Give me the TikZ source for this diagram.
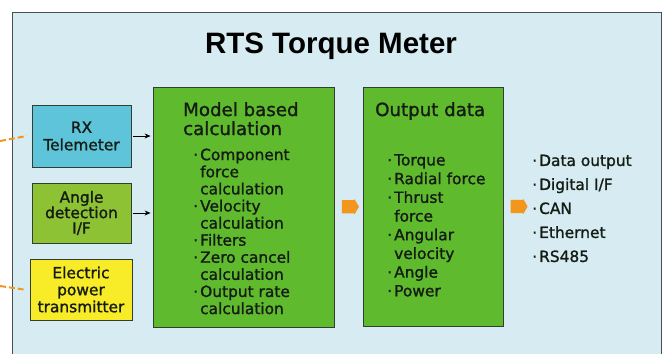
\documentclass[tikz,border=0pt]{standalone}
\usepackage{fontspec}
\setmainfont{DejaVu Sans}[RawFeature={embolden=1.3}]
\newfontfamily\headfont{Liberation Sans}
\usetikzlibrary{arrows.meta,shapes.arrows,calc}

\definecolor{panel}{RGB}{214,236,242}
\definecolor{panelline}{RGB}{70,80,80}
\definecolor{rxcyan}{RGB}{94,196,218}
\definecolor{anglelime}{RGB}{141,194,52}
\definecolor{calcgreen}{RGB}{96,186,46}
\definecolor{powyellow}{RGB}{248,236,40}
\definecolor{boxline}{RGB}{50,62,50}
\definecolor{flow}{RGB}{243,150,30}
\definecolor{ink}{RGB}{20,28,20}

% bullet and continuation indent for the item lists
\newcommand\bul{\makebox[8pt][l]{\hspace{1pt}·}}
\newcommand\cont{\makebox[8pt]{}}

\tikzset{
  unit/.style={draw=boxline, line width=0.8pt, inner sep=0pt, text=ink},
  sidebox/.style={unit, minimum width=99pt, minimum height=61pt, align=center,
    font=\fontsize{15.4}{17.5}\selectfont},
  bigbox/.style={unit, fill=calcgreen},
  bodytext/.style={inner sep=0pt, anchor=north west, align=left, text=ink},
  headtext/.style={inner sep=0pt, anchor=north west, align=left, text=ink,
    font=\fontsize{18.2}{19}\selectfont},
  linkarrow/.style={-{Stealth[length=6pt,width=5pt]}, line width=1pt, black,
    shorten <=2pt, shorten >=2pt},
  blockarrow/.style={single arrow, fill=flow, draw=none, minimum height=17pt,
    inner xsep=0pt, inner ysep=6.5pt, single arrow head extend=1pt,
    single arrow tip angle=120},
  signal/.style={dash pattern=on 6pt off 3pt, draw=flow, line width=2pt}
}

\begin{document}
\begin{tikzpicture}[x=1pt, y=-1pt]
  \useasboundingbox (0,0) rectangle (667,354);
  \fill[white] (0,0) rectangle (667,354);

  % main panel
  \fill[panel] (12,12) rectangle (661,354);
  \draw[panelline, line width=1pt] (12,354) -- (12,12) -- (661,12) -- (661,354);

  \node[font=\headfont\bfseries\fontsize{29.5}{31}\selectfont, text=black, anchor=base]
    (title) at (331,53) {RTS Torque Meter};

  % input units
  \node[sidebox, fill=rxcyan, minimum height=62pt] (rx) at (81.5,136) {RX\\Telemeter};
  \node[sidebox, fill=anglelime, minimum height=60pt,
        font=\fontsize{15.4}{15.5}\selectfont] (angle) at (81.5,213) {Angle\\detection\\I/F};
  \node[sidebox, fill=powyellow, minimum width=102pt,
        font=\fontsize{15.4}{17}\selectfont] (power) at (81,289.5) {Electric\\power\\transmitter};

  % processing blocks
  \node[bigbox, minimum width=181pt, minimum height=240pt] (model) at (243.5,207) {};
  \node[bigbox, minimum width=140pt, minimum height=239pt] (outbox) at (433,206.5) {};

  \node[headtext] (modelhead) at (183,102) {Model based\\calculation};
  \node[bodytext, font=\fontsize{15.4}{17.1}\selectfont] (modellist) at (192,148.5)
    {\bul Component\\ \cont force\\ \cont calculation\\
     \bul Velocity\\ \cont calculation\\ \bul Filters\\
     \bul Zero cancel\\ \cont calculation\\ \bul Output rate\\ \cont calculation};

  \node[headtext] (outhead) at (375,102) {Output data};
  \node[bodytext, font=\fontsize{15.4}{18.7}\selectfont] (outlist) at (386,154)
    {\bul Torque\\ \bul Radial force\\ \bul Thrust\\ \cont force\\
     \bul Angular\\ \cont velocity\\ \bul Angle\\ \bul Power};

  \node[bodytext, font=\fontsize{15.4}{24}\selectfont] (iflist) at (531,154.5)
    {\bul Data output\\ \bul Digital I/F\\ \bul CAN\\ \bul Ethernet\\ \bul RS485};

  % data flow
  \draw[linkarrow] (rx.east) -- (rx.east -| model.west);
  \draw[linkarrow] (angle.east) -- (angle.east -| model.west);

  \node[blockarrow] (flow1) at ($(model.east)!0.5!(outbox.west)$) {};
  \node[blockarrow] (flow2) at ($(outbox.east)!0.5!(outbox.east -| iflist.west)$) {};

  % wireless links from the rotating side
  \coordinate (rxsrc) at (0,141);
  \coordinate (pwsrc) at (0,286);
  \draw[signal] (rxsrc) -- ([xshift=-5pt]rx.west);
  \draw[signal] (pwsrc) -- ([xshift=-6pt]power.west);
\end{tikzpicture}
\end{document}
